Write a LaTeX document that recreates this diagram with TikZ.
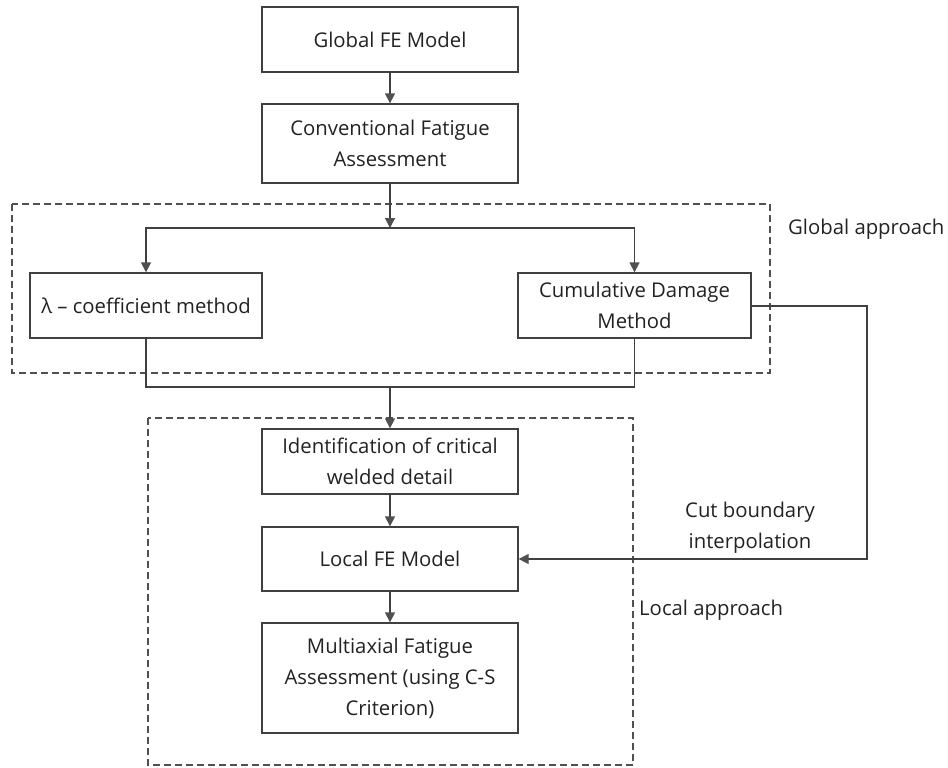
\documentclass[tikz,border=0pt]{standalone}
\usepackage{fontspec}
\setmainfont{Open Sans}
\usetikzlibrary{arrows.meta}
\definecolor{ln}{HTML}{404040}
\definecolor{dl}{HTML}{505050}
\definecolor{tx}{HTML}{222222}
\begin{document}
\begin{tikzpicture}[x=1pt,y=-1pt,
  box/.style={draw=ln,line width=1.3pt,fill=white,minimum width=256pt,inner sep=0pt,align=center,text=tx,font=\fontsize{20.3}{31}\selectfont},
  lbl/.style={text=tx,font=\fontsize{20.3}{31}\selectfont,inner sep=0pt,align=center},
  con/.style={draw=ln,line width=1.3pt},
  arr/.style={con,-{Triangle[length=10pt,width=10pt,color=dl]}},
  dbox/.style={draw=dl,line width=2.5pt,dash pattern=on 7pt off 4pt}]
\useasboundingbox (0,0) rectangle (948,768);
\draw[dbox] (12,204) rectangle (770,373);
\draw[dbox] (148,418) rectangle (633,765);
\node[box,minimum height=65pt] (gfe) at (390,39.5) {Global FE Model};
\node[box,minimum height=79pt] (cfa) at (390,143.5) {Conventional Fatigue\\Assessment};
\node[box,minimum width=232pt,minimum height=65pt] (lam) at (146,305.5) {λ – coefficient method};
\node[box,minimum width=233pt,minimum height=65pt] (cdm) at (634.5,305.5) {Cumulative Damage\\Method};
\node[box,minimum height=65pt] (iden) at (390,461.5) {Identification of critical\\welded detail};
\node[box,minimum height=64pt] (lfe) at (390,559) {Local FE Model};
\node[box,minimum height=110pt] (mfa) at (390,678) {Multiaxial Fatigue\\Assessment (using C-S\\Criterion)};
\coordinate (split) at (390,228);
\coordinate (merge) at (390,387);
\coordinate (cr) at (867,306);
\draw[arr] (gfe) -- (cfa);
\draw[arr] (cfa) -- (split);
\draw[arr] (split) -| (lam.north);
\draw[arr] (split) -| (cdm.north);
\draw[con] (lam.south) |- (merge) -| (cdm.south);
\draw[arr] (merge) -- (iden);
\draw[arr] (iden) -- (lfe);
\draw[arr] (lfe) -- (mfa);
\draw[arr] (cdm.east |- cr) -- (cr) |- (lfe.east);
\node[lbl,anchor=west] (ga) at (788,229) {Global approach};
\node[lbl] (cbi) at (750,528) {Cut boundary\\interpolation};
\node[lbl,anchor=west] (la) at (639,610) {Local approach};
\end{tikzpicture}
\end{document}
